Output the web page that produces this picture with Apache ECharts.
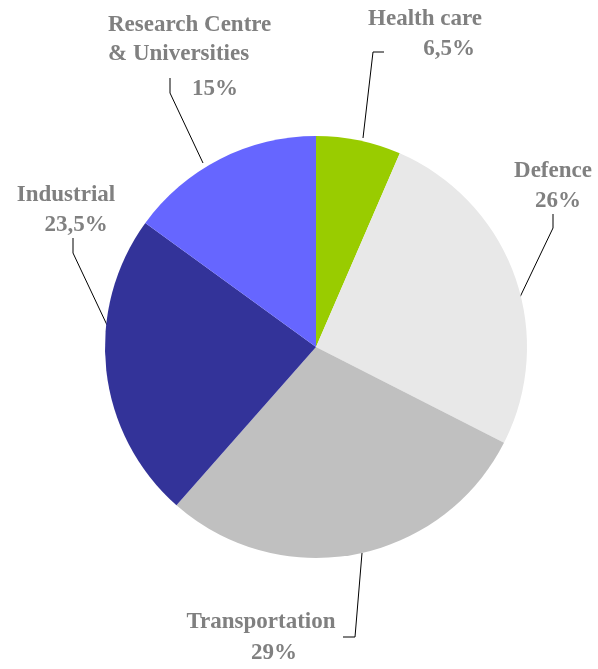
<!DOCTYPE html>
<html>
<meta charset="UTF-8">
<head>
    <title>Pie - sectors</title>
    <script src="https://cdn.jsdelivr.net/npm/echarts@6/dist/echarts.min.js"></script>
    <style>
        html, body { margin: 0; padding: 0; background: #fff; }
        #main { width: 598px; height: 669px; }
    </style>
</head>
<body>
<div id="main"></div>
<script type="text/javascript">
    // data, clockwise from 12 o'clock
    var sectors = ['Health care', 'Defence', 'Transportation', 'Industrial', 'Research Centre\n& Universities'];
    var shares = [6.5, 26, 29, 23.5, 15];
    var shareText = ['6,5%', '26%', '29%', '23,5%', '15%'];
    var colors = ['#99cc00', '#e8e8e8', '#c0c0c0', '#333399', '#6666ff'];

    // label placement: text centre x, y, align
    var labelAt = [
        [425, 35, 'center'],
        [553, 187, 'center'],
        [261, 639, 'center'],
        [66, 211, 'center'],
        [108, 60, 'left']
    ];
    // leader lines: start at pie edge, elbow, end at label
    var leaderAt = [
        [[363, 138], [373, 52], [384, 52]],
        [[520, 297], [553, 228], [553, 214]],
        [[362, 553], [355, 637], [343, 637]],
        [[107, 325], [73, 253], [73, 238]],
        [[203, 163], [170, 93], [170, 78]]
    ];

    var myChart = echarts.init(document.getElementById('main'));

    var data = [];
    for (var i = 0; i < sectors.length; i++) {
        data.push({
            name: sectors[i],
            value: shares[i],
            itemStyle: { color: colors[i] }
        });
    }

    var txt = { fontFamily: 'Liberation Serif', fontWeight: 'bold', fontSize: 23, color: '#808080' };
    function rs(lh, padLeft) {
        return Object.assign({}, txt, { lineHeight: lh, padding: [0, 0, 0, padLeft] });
    }

    var option = {
        animation: false,
        series: [{
            type: 'pie',
            center: [316, 347],
            radius: 211,
            startAngle: 90,
            clockwise: true,
            data: data,
            label: Object.assign({
                show: true,
                position: 'outside',
                overflow: 'none',
                width: 300,
                formatter: function (p) {
                    var nm = p.name.split('\n').map(function (s) { return '{n|' + s + '}'; }).join('\n');
                    return nm + '\n{p' + p.dataIndex + '|' + shareText[p.dataIndex] + '}';
                },
                rich: {
                    n: rs(29, 0),
                    p0: rs(32, 48),
                    p1: rs(32, 10),
                    p2: rs(34, 26),
                    p3: rs(32, 20),
                    p4: rs(40, 84)
                }
            }, txt),
            labelLine: {
                show: true,
                length: 20,
                length2: 12,
                lineStyle: { color: '#000', width: 1 }
            },
            labelLayout: function (params) {
                var pos = labelAt[params.dataIndex];
                return {
                    x: pos[0],
                    y: pos[1],
                    align: pos[2],
                    verticalAlign: 'middle',
                    labelLinePoints: leaderAt[params.dataIndex]
                };
            },
            emphasis: { disabled: true }
        }]
    };

    myChart.setOption(option);
</script>
</body>
</html>
